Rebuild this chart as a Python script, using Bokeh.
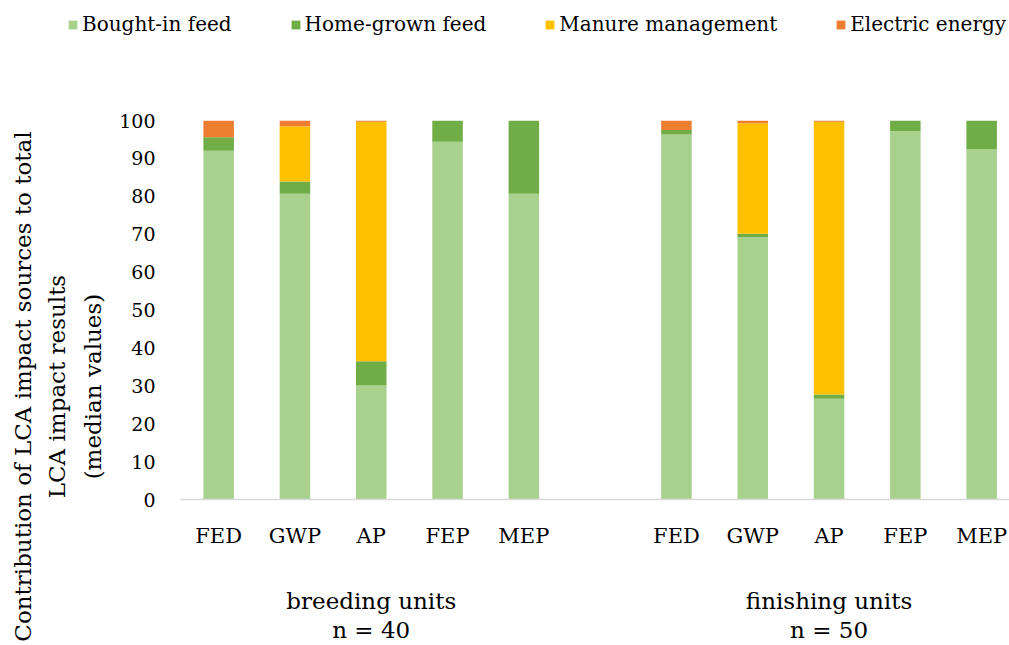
from bokeh.plotting import figure
from bokeh.models import (Range1d, FixedTicker, Legend, LegendItem, ColumnDataSource,
                          LinearAxis)
from bokeh.embed import file_html
from bokeh.resources import INLINE

# ---- data ----
impact_categories = ["FED", "GWP", "AP", "FEP", "MEP"]
groups = ["breeding units", "finishing units"]
group_n = ["n = 40", "n = 50"]
sources = ["Bought-in feed", "Home-grown feed", "Manure management", "Electric energy"]
colors = ["#A9D18E", "#70AD47", "#FFC000", "#ED7D31"]

breeding_bought = [92.0, 80.7, 30.1, 94.4, 80.7]
breeding_home = [3.6, 3.2, 6.4, 5.6, 19.3]
breeding_manure = [0.0, 14.6, 63.2, 0.0, 0.0]
breeding_electric = [4.4, 1.5, 0.3, 0.0, 0.0]

finishing_bought = [96.3, 69.2, 26.6, 97.2, 92.5]
finishing_home = [1.2, 0.9, 1.1, 2.8, 7.5]
finishing_manure = [0.0, 29.2, 72.0, 0.0, 0.0]
finishing_electric = [2.5, 0.7, 0.3, 0.0, 0.0]

y_ticks = list(range(0, 101, 10))
y_title = ["Contribution of LCA impact sources to total",
           "LCA impact results",
           "(median values)"]
y_title_pos = 29.8  # data position of the centre of the title block

# ---- build table ----
n = len(impact_categories)
xs, labels = [], []
for g in range(len(groups)):
    for i, c in enumerate(impact_categories):
        xs.append(g * (n + 1) + i)
        labels.append(c)
group_x = [g * (n + 1) + (n - 1) / 2 for g in range(len(groups))]

data = {
    "x": xs,
    "Bought-in feed": breeding_bought + finishing_bought,
    "Home-grown feed": breeding_home + finishing_home,
    "Manure management": breeding_manure + finishing_manure,
    "Electric energy": breeding_electric + finishing_electric,
}
src = ColumnDataSource(data)

FONT = "DejaVu Serif"
LEG_H = 40

p = figure(width=1009, height=645 - LEG_H, output_backend="svg", toolbar_location=None,
           x_range=Range1d(-0.5, 10.365), y_range=Range1d(0, 100),
           min_border_left=180, min_border_right=0, min_border_top=120 - LEG_H,
           min_border_bottom=146)

renderers = p.vbar_stack(sources, x="x", width=0.4, color=colors, source=src,
                         line_color=None)

p.outline_line_color = None
p.xgrid.visible = False
p.ygrid.visible = False
p.background_fill_color = "white"
p.border_fill_color = "white"


def plain_axis(ax, standoff, size):
    ax.axis_line_color = None
    ax.major_tick_line_color = None
    ax.minor_tick_line_color = None
    ax.major_tick_out = 0
    ax.major_tick_in = 0
    ax.minor_tick_out = 0
    ax.major_label_standoff = standoff
    ax.major_label_text_font = FONT
    ax.major_label_text_font_size = size
    ax.major_label_text_color = "black"


# x axis (categories)
xa = p.xaxis[0]
plain_axis(xa, 24, "21px")
xa.ticker = FixedTicker(ticks=xs)
xa.major_label_overrides = {x: l for x, l in zip(xs, labels)}
xa.axis_line_color = "#D9D9D9"
xa.axis_line_width = 1.5

# group name axis and n axis
ga = LinearAxis(ticker=FixedTicker(ticks=group_x),
                major_label_overrides={x: t for x, t in zip(group_x, groups)})
plain_axis(ga, 37, "23px")
p.add_layout(ga, "below")
na = LinearAxis(ticker=FixedTicker(ticks=group_x),
                major_label_overrides={x: t for x, t in zip(group_x, group_n)})
plain_axis(na, 0, "23px")
p.add_layout(na, "below")

# y axis
ya = p.yaxis[0]
plain_axis(ya, 25, "19px")
ya.ticker = FixedTicker(ticks=y_ticks)

# y title: three lines, innermost added first
for t, so in zip(reversed(y_title), [10, 7, 5]):
    ta = LinearAxis(ticker=FixedTicker(ticks=[y_title_pos]),
                    major_label_overrides={y_title_pos: t},
                    major_label_orientation="vertical")
    plain_axis(ta, so, "23px")
    p.add_layout(ta, "left")

# ---- legend strip: its own root figure above the chart ----
lf = figure(width=1009, height=LEG_H, output_backend="svg", toolbar_location=None,
            x_axis_location=None, y_axis_location=None,
            x_range=Range1d(-0.5, 10.365), y_range=Range1d(-2, -1),
            min_border=0)
lf.outline_line_color = None
lf.xgrid.visible = False
lf.ygrid.visible = False
lf.background_fill_color = "white"
lf.border_fill_color = "white"
# same series, renderers hidden: only their legend entries are drawn
leg_renderers = lf.vbar_stack(sources, x="x", width=0.4, color=colors, source=src,
                              line_color=None)
for r in leg_renderers:
    r.visible = False
items = [LegendItem(label=s, renderers=[r]) for s, r in zip(sources, leg_renderers)]
legend = Legend(items=items, orientation="horizontal", location=(67, 4),
                padding=0, margin=0, spacing=58, label_standoff=4,
                glyph_width=11, glyph_height=11,
                label_text_font=FONT, label_text_font_size="20px",
                label_text_color="black",
                border_line_color=None, background_fill_alpha=0)
lf.add_layout(legend, "center")

open("out.html", "w").write(file_html([lf, p], INLINE))
